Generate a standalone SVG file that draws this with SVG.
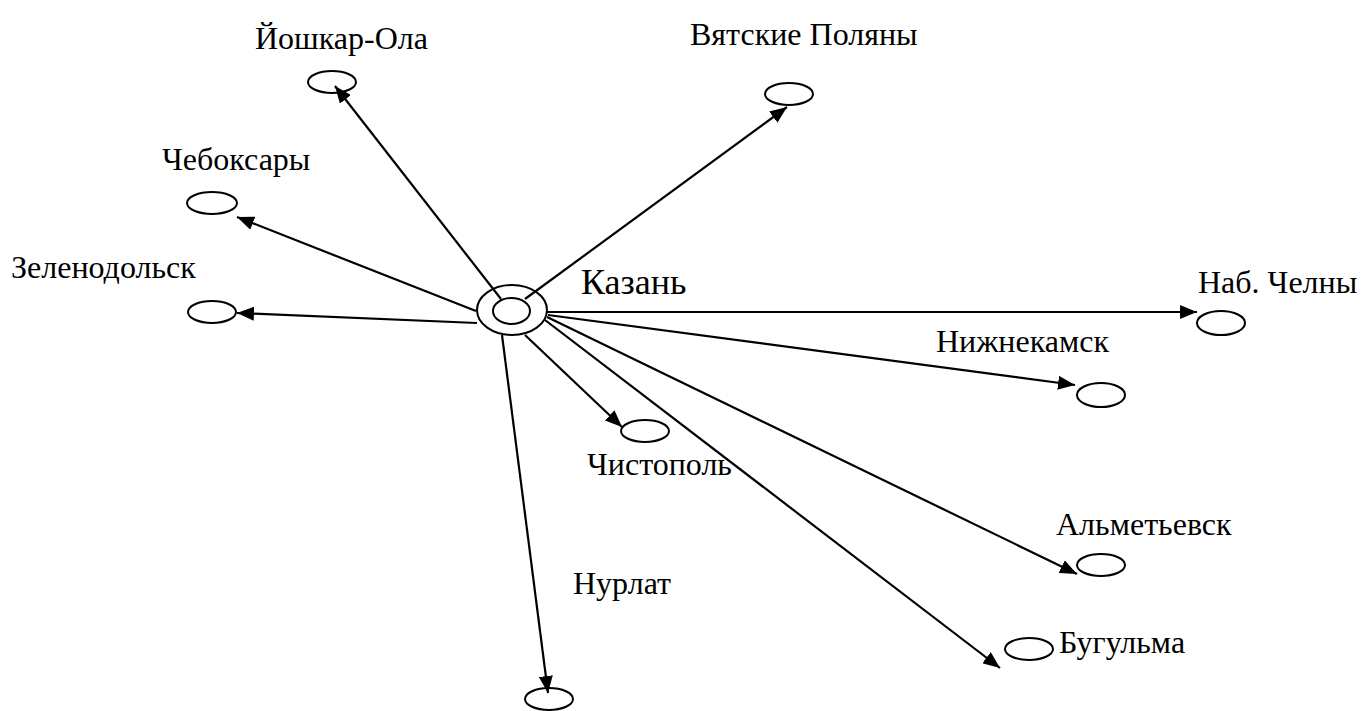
<svg xmlns="http://www.w3.org/2000/svg" width="1367" height="711" viewBox="0 0 1367 711">
<style>
.n{fill:none;stroke:#000;stroke-width:2}
.c{stroke:#000;stroke-width:2.2;fill:none;marker-end:url(#ah)}
text{font-family:'Liberation Serif','Times New Roman',serif;font-size:32px;fill:#000}
</style>
<defs>
<marker id="ah" markerUnits="userSpaceOnUse" markerWidth="18" markerHeight="14" refX="17" refY="7" orient="auto">
<path d="M0,0 L17,7 L0,14 z" fill="#000"/>
</marker>
</defs>
<rect width="1367" height="711" fill="#fff"/>
<g id="connectors">
<line class="c" x1="501" y1="299" x2="335" y2="86"/>
<line class="c" x1="525" y1="299" x2="787" y2="107"/>
<line class="c" x1="476" y1="311" x2="237" y2="217"/>
<line class="c" x1="477" y1="323" x2="237" y2="313"/>
<line class="c" x1="547" y1="312" x2="1197" y2="312"/>
<line class="c" x1="548" y1="315" x2="1075" y2="385"/>
<line class="c" x1="547" y1="317" x2="1077" y2="574"/>
<line class="c" x1="545" y1="320" x2="1000" y2="668"/>
<line class="c" x1="525" y1="335" x2="622" y2="427"/>
<line class="c" x1="502" y1="335" x2="548" y2="693"/>
</g>
<g id="kazan">
<ellipse class="n" cx="512" cy="310" rx="35" ry="25"/>
<ellipse class="n" cx="511.5" cy="311" rx="18.5" ry="13"/>
<text x="581" y="294" style="font-size:36px">Казань</text>
</g>
<g id="yoshkar-ola">
<ellipse class="n" cx="332" cy="82" rx="24" ry="11"/>
<text x="255" y="49">Йошкар-Ола</text>
</g>
<g id="vyatskie-polyany">
<ellipse class="n" cx="789" cy="94" rx="24" ry="11"/>
<text x="690" y="45">Вятские Поляны</text>
</g>
<g id="cheboksary">
<ellipse class="n" cx="212" cy="203" rx="25" ry="11"/>
<text x="162" y="170">Чебоксары</text>
</g>
<g id="zelenodolsk">
<ellipse class="n" cx="212" cy="312" rx="24" ry="11"/>
<text x="11" y="278">Зеленодольск</text>
</g>
<g id="nab-chelny">
<ellipse class="n" cx="1221" cy="323" rx="24" ry="12"/>
<text x="1198" y="293">Наб. Челны</text>
</g>
<g id="nizhnekamsk">
<ellipse class="n" cx="1101" cy="395" rx="24" ry="12"/>
<text x="936" y="352">Нижнекамск</text>
</g>
<g id="chistopol">
<ellipse class="n" cx="645" cy="431" rx="24" ry="11"/>
<text x="587" y="475">Чистополь</text>
</g>
<g id="almetyevsk">
<ellipse class="n" cx="1101" cy="565" rx="24" ry="11"/>
<text x="1056" y="535">Альметьевск</text>
</g>
<g id="bugulma">
<ellipse class="n" cx="1029" cy="649" rx="24" ry="11"/>
<text x="1059" y="653">Бугульма</text>
</g>
<g id="nurlat">
<ellipse class="n" cx="549" cy="699" rx="24" ry="11"/>
<text x="573" y="594">Нурлат</text>
</g>
</svg>
